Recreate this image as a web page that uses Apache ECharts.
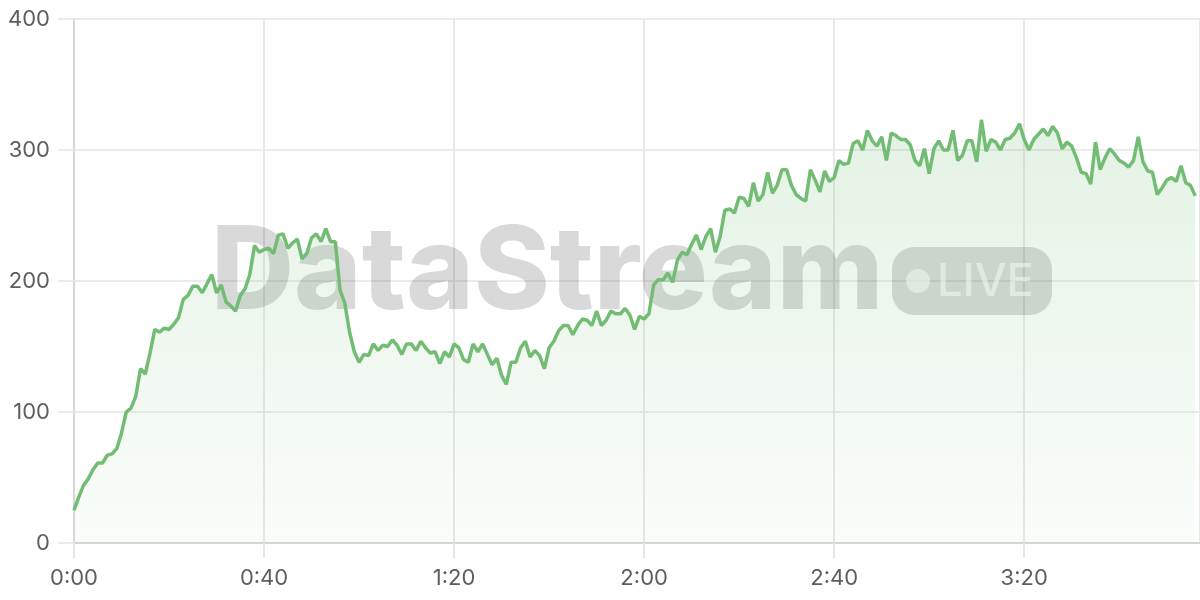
<!DOCTYPE html>
<html>
<head>
<meta charset="utf-8">
<script src="https://cdn.jsdelivr.net/npm/echarts@6/dist/echarts.min.js"></script>
<style>
  html, body { margin: 0; padding: 0; background: #fff; }
  #main { width: 1200px; height: 600px; }
</style>
</head>
<body>
<div id="main"></div>
<script>
// one reading per minute, starting at 0:00
var viewers = [
    25, 35, 44, 49, 56, 61, 61, 67, 68, 72,
    84, 100, 103, 112, 133, 129, 145, 163, 161, 164,
    163, 167, 172, 186, 189, 196, 196, 191, 198, 205,
    191, 197, 184, 181, 177, 189, 194, 205, 227, 222,
    224, 225, 221, 235, 236, 225, 229, 232, 217, 221,
    233, 236, 230, 240, 230, 230, 193, 183, 161, 146,
    138, 144, 143, 152, 147, 151, 150, 155, 151, 144,
    152, 152, 147, 154, 149, 145, 146, 137, 146, 142,
    152, 149, 140, 138, 152, 146, 152, 144, 136, 141,
    128, 121, 138, 138, 149, 154, 142, 147, 143, 133,
    149, 154, 162, 166, 166, 159, 166, 171, 170, 166,
    177, 166, 170, 177, 175, 175, 179, 174, 163, 173,
    171, 175, 197, 201, 201, 206, 199, 216, 222, 220,
    228, 235, 224, 234, 240, 222, 234, 254, 255, 252,
    264, 263, 257, 275, 261, 266, 283, 267, 273, 285,
    285, 273, 266, 263, 261, 285, 277, 268, 284, 276,
    279, 292, 289, 290, 305, 307, 300, 315, 307, 303,
    310, 292, 313, 311, 308, 308, 304, 292, 288, 301,
    282, 301, 307, 300, 300, 315, 292, 296, 307, 307,
    291, 323, 299, 308, 306, 300, 308, 309, 313, 320,
    308, 300, 308, 312, 316, 311, 318, 313, 301, 306,
    303, 294, 283, 282, 274, 306, 285, 294, 301, 297,
    292, 290, 287, 292, 310, 291, 284, 283, 266, 271,
    277, 279, 276, 288, 275, 273, 265
];
var xTickStep = 40;   // minutes between x labels
var xMax = 237;
var yTicks = [0, 100, 200, 300, 400];

var points = viewers.map(function (v, i) { return [i, v]; });

function fmtMinutes(m) {
    var h = Math.floor(m / 60);
    var mm = m % 60;
    return h + ':' + (mm < 10 ? '0' + mm : mm);
}

var myChart = echarts.init(document.getElementById('main'));
var option = {
    backgroundColor: '#fff',
    animation: false,
    textStyle: { fontFamily: 'Inter' },
    grid: { left: 74, right: 0, top: 19, bottom: 57 },
    xAxis: {
        type: 'value',
        min: 0,
        max: xMax,
        interval: xTickStep,
        axisLine: { lineStyle: { color: '#d3d7d3', width: 2 } },
        axisTick: { show: true, length: 15, lineStyle: { color: '#e6e6e6', width: 2 } },
        axisLabel: {
            color: '#5e5e5e',
            fontSize: 22,
            margin: 24,
            showMaxLabel: false,
            formatter: function (v) { return fmtMinutes(v); }
        },
        splitLine: { show: true, lineStyle: { color: '#e8e8e8', width: 2 } }
    },
    yAxis: {
        type: 'value',
        min: yTicks[0],
        max: yTicks[yTicks.length - 1],
        interval: 100,
        axisLine: { show: true, lineStyle: { color: '#d6d6d6', width: 2 } },
        axisTick: { show: true, length: 16, lineStyle: { color: '#ebebeb', width: 2 } },
        axisLabel: { color: '#5e5e5e', fontSize: 22, margin: 24 },
        splitLine: { lineStyle: { color: '#ebebeb', width: 2 } }
    },
    graphic: [
        {
            type: 'text',
            z: 1,
            x: 211,
            y: 274,
            style: {
                text: 'DataStream',
                font: '800 115px Inter',
                fill: 'rgba(0,0,0,0.15)',
                textAlign: 'left',
                textVerticalAlign: 'middle'
            }
        },
        {
            type: 'rect',
            z: 1,
            shape: { x: 892, y: 247, width: 160, height: 68, r: 22 },
            style: { fill: 'rgba(0,0,0,0.15)' }
        },
        {
            type: 'circle',
            z: 1,
            shape: { cx: 918, cy: 281, r: 12 },
            style: { fill: 'rgba(255,255,255,0.6)' }
        },
        {
            type: 'text',
            z: 1,
            x: 937,
            y: 282,
            style: {
                text: 'LIVE',
                font: '500 45px Inter',
                fill: 'rgba(255,255,255,0.62)',
                textAlign: 'left',
                textVerticalAlign: 'middle'
            }
        }
    ],
    series: [{
        type: 'line',
        data: points,
        showSymbol: false,
        smooth: false,
        z: 2,
        lineStyle: { color: '#72bc74', width: 3.5 },
        itemStyle: { color: '#72bc74' },
        areaStyle: {
            color: new echarts.graphic.LinearGradient(0, 0, 0, 1, [
                { offset: 0, color: 'rgba(115,189,118,0.28)' },
                { offset: 1, color: 'rgba(115,189,118,0.05)' }
            ])
        }
    }]
};
myChart.setOption(option);
</script>
</body>
</html>
